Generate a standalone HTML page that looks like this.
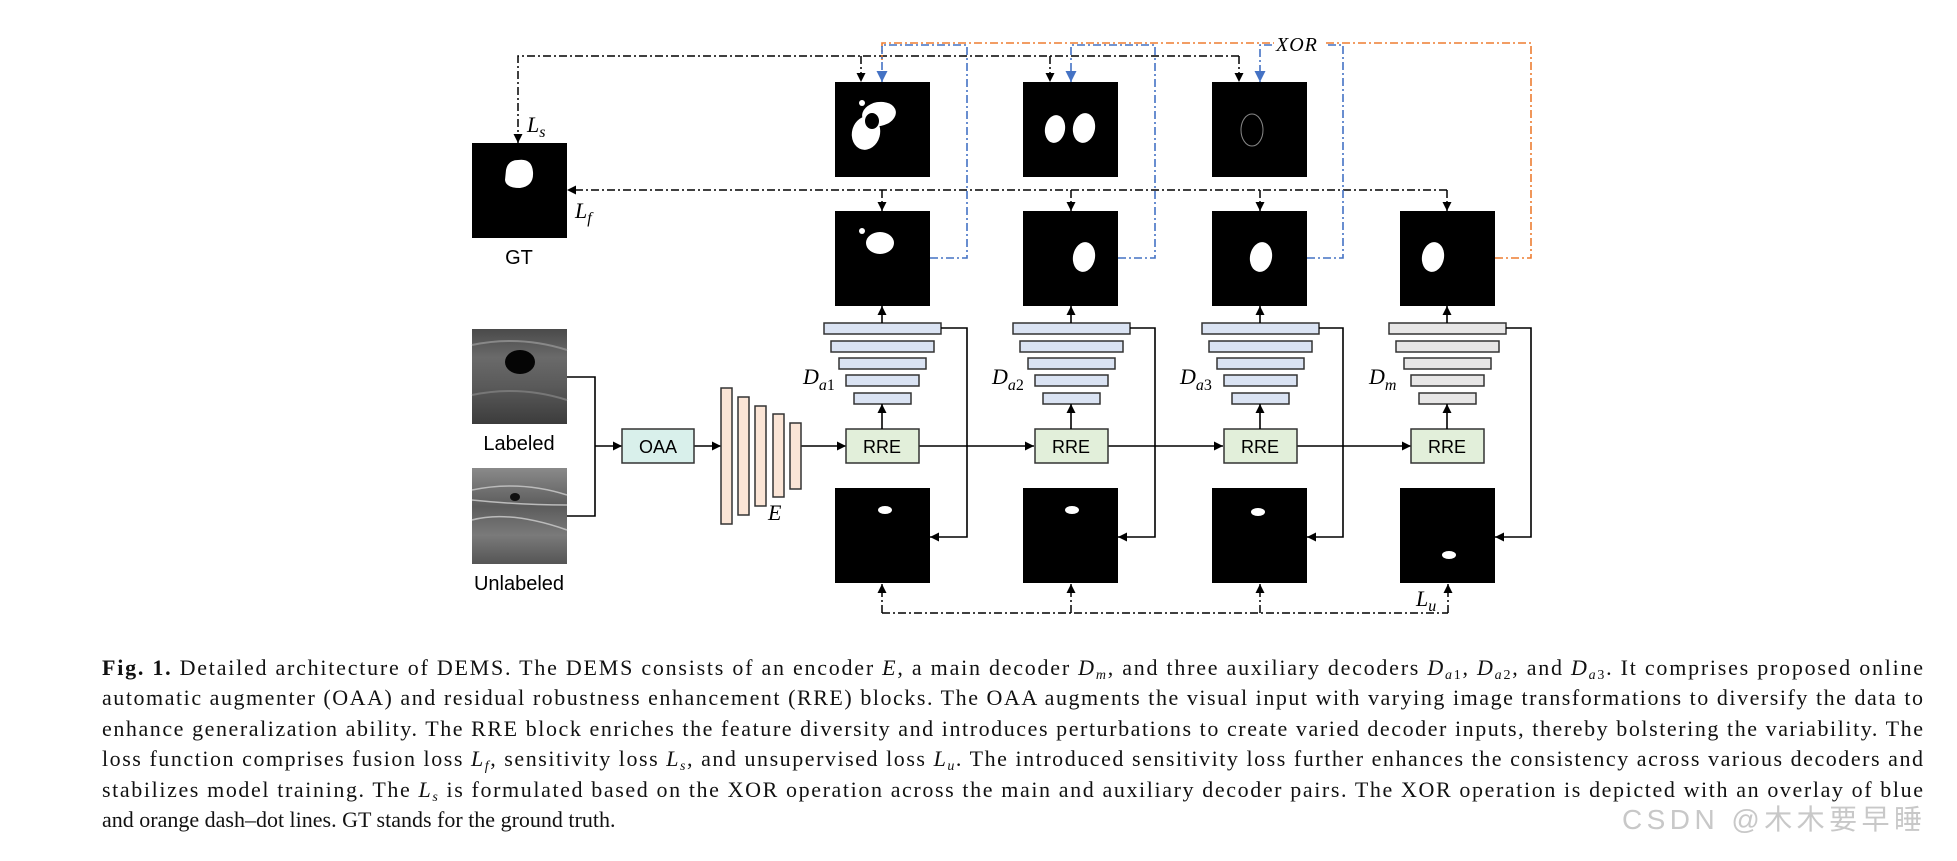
<!DOCTYPE html>
<html><head><meta charset="utf-8"><style>
html,body{margin:0;padding:0;background:#fff;}
svg{display:block;}
</style></head><body>
<svg width="1957" height="861" viewBox="0 0 1957 861" xmlns="http://www.w3.org/2000/svg">
<defs>
<marker id="ab" viewBox="0 0 10 10" refX="10" refY="5" markerWidth="9" markerHeight="9" markerUnits="userSpaceOnUse" orient="auto"><path d="M0,0 L10,5 L0,10 z" fill="#000"/></marker>
<marker id="abl" viewBox="0 0 10 10" refX="10" refY="5" markerWidth="11" markerHeight="13" markerUnits="userSpaceOnUse" orient="auto"><path d="M0,0 L10,5 L0,10 z" fill="#4472c4"/></marker>
<linearGradient id="us1" x1="0" y1="0" x2="0" y2="1"><stop offset="0" stop-color="#4a4a4a"/><stop offset="0.3" stop-color="#6a6a6a"/><stop offset="0.6" stop-color="#5a5a5a"/><stop offset="1" stop-color="#3c3c3c"/></linearGradient>
<linearGradient id="us2" x1="0" y1="0" x2="0" y2="1"><stop offset="0" stop-color="#8a8a8a"/><stop offset="0.4" stop-color="#5c5c5c"/><stop offset="0.7" stop-color="#7a7a7a"/><stop offset="1" stop-color="#555"/></linearGradient>
</defs>

<rect x="472" y="329" width="95" height="95" fill="url(#us1)"/>
<path d="M472,345 Q520,335 567,350" stroke="#888" stroke-width="2" fill="none"/>
<path d="M472,395 Q520,385 567,400" stroke="#777" stroke-width="2" fill="none"/>
<ellipse cx="520" cy="362" rx="15" ry="12" fill="#050505"/>
<rect x="472" y="468" width="95" height="96" fill="url(#us2)"/>
<path d="M472,490 Q520,480 567,495 M472,500 Q520,505 567,505 M472,520 Q510,510 567,530" stroke="#bbb" stroke-width="1.5" fill="none"/>
<ellipse cx="515" cy="497" rx="5" ry="4" fill="#111"/>
<text x="519" y="450" font-family="Liberation Sans, sans-serif" font-size="20" text-anchor="middle">Labeled</text>
<text x="519" y="590" font-family="Liberation Sans, sans-serif" font-size="20" text-anchor="middle">Unlabeled</text>

<rect x="472" y="143" width="95" height="95" fill="#000"/>
<path d="M506,170 Q508,160 518,160 Q532,158 533,172 Q534,186 520,188 Q506,188 505,180 Z" fill="#fff"/>
<text x="519" y="264" font-family="Liberation Sans, sans-serif" font-size="20" text-anchor="middle">GT</text>

<g stroke="#000" stroke-width="1.6" fill="none">
<path d="M567,377 H595 V516 H567"/>
<path d="M595,446 H622" marker-end="url(#ab)"/>
<path d="M694,446 H721" marker-end="url(#ab)"/>
<path d="M801,446 H846" marker-end="url(#ab)"/>
<path d="M919,446 H1034" marker-end="url(#ab)"/>
<path d="M1107,446 H1223" marker-end="url(#ab)"/>
<path d="M1296,446 H1411" marker-end="url(#ab)"/>
</g>
<rect x="622" y="429" width="72" height="34" fill="#d9f0eb" stroke="#333" stroke-width="1.5"/>
<text x="658" y="453" font-family="Liberation Sans, sans-serif" font-size="18" text-anchor="middle">OAA</text>

<g fill="#fbe5d6" stroke="#333" stroke-width="1.5">
<rect x="721" y="388" width="11" height="136"/>
<rect x="738" y="397" width="11" height="118"/>
<rect x="755" y="406" width="11" height="100"/>
<rect x="773" y="414" width="11" height="83"/>
<rect x="790" y="423" width="11" height="66"/>
</g>
<text x="768" y="520" font-family="Liberation Serif, serif" font-style="italic" font-size="22">E</text>

<g fill="#dae3f3" stroke="#333" stroke-width="1.5">
<rect x="824" y="323" width="117" height="11"/><rect x="831" y="341" width="103" height="11"/><rect x="839" y="358" width="87" height="11"/><rect x="846" y="375" width="73" height="11"/><rect x="854" y="393" width="57" height="11"/>
<rect x="1013" y="323" width="117" height="11"/><rect x="1020" y="341" width="103" height="11"/><rect x="1028" y="358" width="87" height="11"/><rect x="1035" y="375" width="73" height="11"/><rect x="1043" y="393" width="57" height="11"/>
<rect x="1202" y="323" width="117" height="11"/><rect x="1209" y="341" width="103" height="11"/><rect x="1217" y="358" width="87" height="11"/><rect x="1224" y="375" width="73" height="11"/><rect x="1232" y="393" width="57" height="11"/>
</g>
<g fill="#e7e6e6" stroke="#333" stroke-width="1.5">
<rect x="1389" y="323" width="117" height="11"/><rect x="1396" y="341" width="103" height="11"/><rect x="1404" y="358" width="87" height="11"/><rect x="1411" y="375" width="73" height="11"/><rect x="1419" y="393" width="57" height="11"/>
</g>
<g fill="#e2efda" stroke="#333" stroke-width="1.5">
<rect x="846" y="429" width="73" height="34"/><rect x="1035" y="429" width="73" height="34"/><rect x="1224" y="429" width="73" height="34"/><rect x="1411" y="429" width="73" height="34"/>
</g>
<g font-family="Liberation Sans, sans-serif" font-size="18" text-anchor="middle">
<text x="882" y="453">RRE</text><text x="1071" y="453">RRE</text><text x="1260" y="453">RRE</text><text x="1447" y="453">RRE</text>
</g>
<g fill="#000">
<rect x="835" y="82" width="95" height="95"/><rect x="1023" y="82" width="95" height="95"/><rect x="1212" y="82" width="95" height="95"/>
<rect x="835" y="211" width="95" height="95"/><rect x="1023" y="211" width="95" height="95"/><rect x="1212" y="211" width="95" height="95"/><rect x="1400" y="211" width="95" height="95"/>
<rect x="835" y="488" width="95" height="95"/><rect x="1023" y="488" width="95" height="95"/><rect x="1212" y="488" width="95" height="95"/><rect x="1400" y="488" width="95" height="95"/>
</g>
<g fill="#fff">
<ellipse cx="879" cy="114" rx="17" ry="12" transform="rotate(-10 879 114)"/>
<ellipse cx="866" cy="133" rx="14" ry="17" transform="rotate(15 866 133)"/>
<circle cx="862" cy="103" r="3"/>
<ellipse cx="1055" cy="129" rx="10" ry="14" transform="rotate(10 1055 129)"/>
<ellipse cx="1084" cy="128" rx="11" ry="15" transform="rotate(10 1084 128)"/>
<ellipse cx="880" cy="243" rx="14" ry="11"/><circle cx="862" cy="231" r="3"/>
<ellipse cx="1084" cy="257" rx="11" ry="15" transform="rotate(10 1084 257)"/>
<ellipse cx="1261" cy="257" rx="11" ry="15" transform="rotate(10 1261 257)"/>
<ellipse cx="1433" cy="257" rx="11" ry="15" transform="rotate(10 1433 257)"/>
<ellipse cx="885" cy="510" rx="7" ry="4"/>
<ellipse cx="1072" cy="510" rx="7" ry="4"/>
<ellipse cx="1258" cy="512" rx="7" ry="4"/>
<ellipse cx="1449" cy="555" rx="7" ry="4"/>
</g>
<ellipse cx="872" cy="121" rx="7" ry="8" fill="#000"/>
<ellipse cx="1252" cy="130" rx="11" ry="16" fill="none" stroke="#888" stroke-width="1"/>

<g stroke="#000" stroke-width="1.6" fill="none">
<path d="M882,429 V404" marker-end="url(#ab)"/><path d="M1071,429 V404" marker-end="url(#ab)"/><path d="M1260,429 V404" marker-end="url(#ab)"/><path d="M1447,429 V404" marker-end="url(#ab)"/>
<path d="M882,323 V306" marker-end="url(#ab)"/><path d="M1071,323 V306" marker-end="url(#ab)"/><path d="M1260,323 V306" marker-end="url(#ab)"/><path d="M1447,323 V306" marker-end="url(#ab)"/>
<path d="M941,328 H967 V537 H930" marker-end="url(#ab)"/>
<path d="M1130,328 H1155 V537 H1118" marker-end="url(#ab)"/>
<path d="M1319,328 H1343 V537 H1307" marker-end="url(#ab)"/>
<path d="M1506,328 H1531 V537 H1495" marker-end="url(#ab)"/>
</g>

<g stroke="#000" stroke-width="1.5" fill="none" stroke-dasharray="8,3,2,3">
<path d="M1239,56 H518 V143" marker-end="url(#ab)"/>
<path d="M861,56 V82" marker-end="url(#ab)"/>
<path d="M1050,56 V82" marker-end="url(#ab)"/>
<path d="M1239,56 V82" marker-end="url(#ab)"/>
<path d="M1447,190 H567" marker-end="url(#ab)"/>
<path d="M882,190 V211" marker-end="url(#ab)"/>
<path d="M1071,190 V211" marker-end="url(#ab)"/>
<path d="M1260,190 V211" marker-end="url(#ab)"/>
<path d="M1447,190 V211" marker-end="url(#ab)"/>
<path d="M882,613 H1448"/>
<path d="M882,613 V584" marker-end="url(#ab)"/>
<path d="M1071,613 V584" marker-end="url(#ab)"/>
<path d="M1260,613 V584" marker-end="url(#ab)"/>
<path d="M1448,613 V584" marker-end="url(#ab)"/>
</g>
<path d="M1495,258 H1531 V43 H882 V60" stroke="#ed7d31" stroke-width="1.6" fill="none" stroke-dasharray="8,3,2,3"/>
<g stroke="#4472c4" stroke-width="1.6" fill="none" stroke-dasharray="8,3,2,3">
<path d="M930,258 H967 V45 H882 V82" marker-end="url(#abl)"/>
<path d="M1118,258 H1155 V45 H1071 V82" marker-end="url(#abl)"/>
<path d="M1307,258 H1343 V45 H1260 V82" marker-end="url(#abl)"/>
</g>
<rect x="1274" y="34" width="52" height="20" fill="#fff"/>
<text x="1276" y="51" font-family="Liberation Serif, serif" font-style="italic" font-size="20" letter-spacing="1">XOR</text>

<g font-family="Liberation Serif, serif" font-style="italic" font-size="22">
<text x="527" y="132">L<tspan font-size="16" dy="5">s</tspan></text>
<text x="575" y="218">L<tspan font-size="16" dy="5">f</tspan></text>
<text x="1416" y="606">L<tspan font-size="16" dy="5">u</tspan></text>
<text x="803" y="384">D<tspan font-size="16" dy="6">a</tspan><tspan font-size="16" font-style="normal">1</tspan></text>
<text x="992" y="384">D<tspan font-size="16" dy="6">a</tspan><tspan font-size="16" font-style="normal">2</tspan></text>
<text x="1180" y="384">D<tspan font-size="16" dy="6">a</tspan><tspan font-size="16" font-style="normal">3</tspan></text>
<text x="1369" y="384">D<tspan font-size="16" dy="6">m</tspan></text>
</g>

<g font-family="Liberation Serif, serif" font-size="22" fill="#111">
<text x="102" y="675" textLength="1821" lengthAdjust="spacing"><tspan font-weight="bold">Fig. 1.</tspan> Detailed architecture of DEMS. The DEMS consists of an encoder <tspan font-style="italic">E</tspan>, a main decoder <tspan font-style="italic">D</tspan><tspan font-size="14" font-style="italic" dy="4">m</tspan><tspan dy="-4">, and three auxiliary decoders </tspan><tspan font-style="italic">D</tspan><tspan font-size="14" dy="4"><tspan font-style="italic">a</tspan>1</tspan><tspan dy="-4">, </tspan><tspan font-style="italic">D</tspan><tspan font-size="14" dy="4"><tspan font-style="italic">a</tspan>2</tspan><tspan dy="-4">, and </tspan><tspan font-style="italic">D</tspan><tspan font-size="14" dy="4"><tspan font-style="italic">a</tspan>3</tspan><tspan dy="-4">. It comprises proposed online</tspan></text>
<text x="102" y="705" textLength="1821" lengthAdjust="spacing">automatic augmenter (OAA) and residual robustness enhancement (RRE) blocks. The OAA augments the visual input with varying image transformations to diversify the data to</text>
<text x="102" y="736" textLength="1821" lengthAdjust="spacing">enhance generalization ability. The RRE block enriches the feature diversity and introduces perturbations to create varied decoder inputs, thereby bolstering the variability. The</text>
<text x="102" y="766" textLength="1821" lengthAdjust="spacing">loss function comprises fusion loss <tspan font-style="italic">L</tspan><tspan font-size="14" font-style="italic" dy="4">f</tspan><tspan dy="-4">, sensitivity loss </tspan><tspan font-style="italic">L</tspan><tspan font-size="14" font-style="italic" dy="4">s</tspan><tspan dy="-4">, and unsupervised loss </tspan><tspan font-style="italic">L</tspan><tspan font-size="14" font-style="italic" dy="4">u</tspan><tspan dy="-4">. The introduced sensitivity loss further enhances the consistency across various decoders and</tspan></text>
<text x="102" y="797" textLength="1821" lengthAdjust="spacing">stabilizes model training. The <tspan font-style="italic">L</tspan><tspan font-size="14" font-style="italic" dy="4">s</tspan><tspan dy="-4"> is formulated based on the XOR operation across the main and auxiliary decoder pairs. The XOR operation is depicted with an overlay of blue</tspan></text>
<text x="102" y="827">and orange dash–dot lines. GT stands for the ground truth.</text>
</g>
<text x="1622" y="829" font-family="Liberation Sans, 'Noto Sans CJK SC', sans-serif" font-size="28" fill="#c8c8c8" textLength="300" lengthAdjust="spacing">CSDN @木木要早睡</text>
</svg>
</body></html>
